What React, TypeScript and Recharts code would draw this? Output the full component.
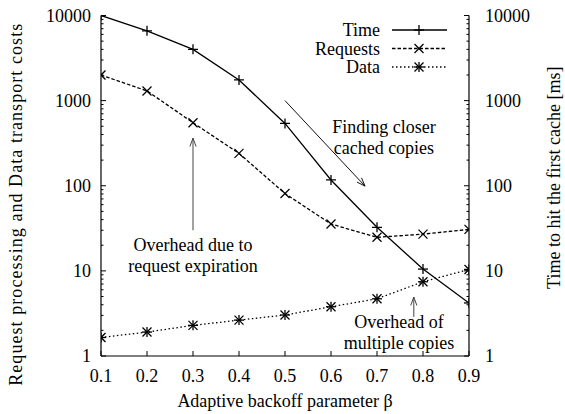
import React from 'react';
import { LineChart, Line, XAxis, YAxis, ReferenceLine, ReferenceDot, Customized } from 'recharts';

// ---- data ----
const betas = [0.1, 0.2, 0.3, 0.4, 0.5, 0.6, 0.7, 0.8, 0.9];
const timeMs = [10000, 6600, 4000, 1750, 540, 117, 32.5, 10.5, 4.2];
const requests = [2000, 1300, 550, 240, 81, 35.5, 24.8, 27, 30.7];
const dataCost = [1.65, 1.91, 2.29, 2.64, 3.03, 3.79, 4.7, 7.45, 10.4];

const xTicks = [0.1, 0.2, 0.3, 0.4, 0.5, 0.6, 0.7, 0.8, 0.9];
const yMajor = [1, 10, 100, 1000, 10000];
const yMinorMultipliers = [2, 3, 4, 5, 6, 7, 8, 9];
const yTicks: number[] = [];
yMajor.forEach((m, i) => {
  yTicks.push(m);
  if (i < yMajor.length - 1) yMinorMultipliers.forEach((k) => yTicks.push(m * k));
});

const legendNames = ['Time', 'Requests', 'Data'];

// annotations (data coordinates)
const arrows = [
  { from: { x: 0.3, y: 30 }, to: { x: 0.3, y: 363 }, color: '#444' },
  { from: { x: 0.5, y: 1000 }, to: { x: 0.674, y: 99 }, color: '#111' },
  { from: { x: 0.78, y: 2.88 }, to: { x: 0.78, y: 4.93 }, color: '#444' },
];
const notes = [
  { x: 0.3, y: 15.3, lines: ['Overhead due to', 'request expiration'] },
  { x: 0.715, y: 373, lines: ['Finding closer', 'cached copies'] },
  { x: 0.748, y: 1.88, lines: ['Overhead of', 'multiple copies'] },
];

const rows = betas.map((b, i) => ({ beta: b, time: timeMs[i], req: requests[i], data: dataCost[i] }));

const FONT = "'Liberation Serif'";
const FS = 18;
const SW = 1.3;
const TXT: React.CSSProperties = { fontFamily: FONT, fontSize: FS };

const PlusMark = ({ cx, cy }: any) => (
  <g stroke="#000" strokeWidth={SW} fill="none">
    <line x1={cx - 5} x2={cx + 5} y1={cy} y2={cy} />
    <line x1={cx} x2={cx} y1={cy - 5} y2={cy + 5} />
  </g>
);
const CrossMark = ({ cx, cy }: any) => (
  <g stroke="#000" strokeWidth={SW} fill="none">
    <line x1={cx - 4.5} x2={cx + 4.5} y1={cy - 4.5} y2={cy + 4.5} />
    <line x1={cx - 4.5} x2={cx + 4.5} y1={cy + 4.5} y2={cy - 4.5} />
  </g>
);
const StarMark = ({ cx, cy }: any) => (
  <g stroke="#000" strokeWidth={SW} fill="none">
    <line x1={cx - 4.5} x2={cx + 4.5} y1={cy - 4.5} y2={cy + 4.5} />
    <line x1={cx - 4.5} x2={cx + 4.5} y1={cy + 4.5} y2={cy - 4.5} />
    <line x1={cx - 5} x2={cx + 5} y1={cy} y2={cy} />
    <line x1={cx} x2={cx} y1={cy - 5} y2={cy + 5} />
  </g>
);

const LeftTick = ({ x, y, payload }: any) => {
  const v = payload.value;
  const major = yMajor.includes(v);
  return (
    <g>
      <line x1={x} x2={x + (major ? 5 : 2.5)} y1={y} y2={y} stroke="#000" />
      {major && (
        <text x={x - 10} y={y} dy="0.34em" textAnchor="end" style={TXT} fill="#000">
          {v}
        </text>
      )}
    </g>
  );
};
const RightTick = ({ x, y, payload }: any) => {
  const v = payload.value;
  const major = yMajor.includes(v);
  return (
    <g>
      <line x1={x} x2={x - (major ? 5 : 2.5)} y1={y} y2={y} stroke="#000" />
      {major && (
        <text x={x + 16} y={y} dy="0.34em" textAnchor="start" style={TXT} fill="#000">
          {v}
        </text>
      )}
    </g>
  );
};
const BottomTick = ({ x, y, payload }: any) => (
  <g>
    <line x1={x} x2={x} y1={y} y2={y - 5} stroke="#000" />
    <text x={x} y={y + 26} textAnchor="middle" style={TXT} fill="#000">
      {Number(payload.value).toFixed(1)}
    </text>
  </g>
);
const TopTick = ({ x, y }: any) => (
  <line x1={x} x2={x} y1={y} y2={y + 5} stroke="#000" />
);

const Arrow = (color: string) => (p: any) => {
  const { x1, y1, x2, y2 } = p;
  const ang = Math.atan2(y2 - y1, x2 - x1);
  const L = 9;
  const a = 0.35;
  const hx1 = x2 - L * Math.cos(ang - a);
  const hy1 = y2 - L * Math.sin(ang - a);
  const hx2 = x2 - L * Math.cos(ang + a);
  const hy2 = y2 - L * Math.sin(ang + a);
  return (
    <g stroke={color} strokeWidth={1} fill="none">
      <line x1={x1} y1={y1} x2={x2} y2={y2} />
      <polyline points={`${hx1},${hy1} ${x2},${y2} ${hx2},${hy2}`} />
    </g>
  );
};

const Note = (lines: string[]) => (p: any) => {
  const { cx, cy } = p;
  const lh = 21;
  const top = cy - ((lines.length - 1) / 2) * lh;
  return (
    <g>
      {lines.map((t, i) => (
        <text key={i} x={cx} y={top + i * lh} dy="0.34em" textAnchor="middle" style={TXT} fill="#000">
          {t}
        </text>
      ))}
    </g>
  );
};

const LegendBlock = () => {
  const marks = [PlusMark, CrossMark, StarMark];
  const dashes = [undefined, '3.5 2', '1.5 2.5'];
  return (
    <g>
      {legendNames.map((n, i) => {
        const y = 30 + i * 18.5;
        const M = marks[i];
        return (
          <g key={n}>
            <text x={380} y={y} dy="0.34em" textAnchor="end" style={TXT} fill="#000">
              {n}
            </text>
            <line x1={392} x2={447} y1={y} y2={y} stroke="#000" strokeWidth={SW} strokeDasharray={dashes[i]} />
            <M cx={419} cy={y} />
          </g>
        );
      })}
    </g>
  );
};

export default function App() {
  return (
    <div style={{ position: 'absolute', left: 0, top: 0, background: '#fff', fontFamily: FONT }}>
      <LineChart width={565} height={414} data={rows} margin={{ top: 15.5, right: 0, bottom: 0, left: 0 }}>
        <XAxis
          xAxisId="bottom"
          dataKey="beta"
          type="number"
          domain={[0.1, 0.9]}
          ticks={xTicks}
          interval={0}
          allowDataOverflow
          height={58}
          tickSize={0}
          tickMargin={0}
          tick={<BottomTick />}
          axisLine={{ stroke: '#000', strokeWidth: 1.2 }}
          label={{
            content: ({ viewBox }: any) => (
              <text
                x={viewBox.x + viewBox.width / 2}
                y={viewBox.y + 51}
                textAnchor="middle"
                style={TXT}
                fill="#000"
              >
                Adaptive backoff parameter β
              </text>
            ),
          }}
        />
        <XAxis
          xAxisId="top"
          orientation="top"
          dataKey="beta"
          type="number"
          domain={[0.1, 0.9]}
          ticks={xTicks}
          interval={0}
          allowDataOverflow
          height={0}
          tickSize={0}
          tickMargin={0}
          tick={<TopTick />}
          axisLine={{ stroke: '#000', strokeWidth: 1.2 }}
        />
        <YAxis
          yAxisId="left"
          scale="log"
          domain={[1, 10000]}
          allowDataOverflow
          ticks={yTicks}
          interval={0}
          width={101}
          tickSize={0}
          tickMargin={0}
          tick={<LeftTick />}
          axisLine={{ stroke: '#000', strokeWidth: 1.2 }}
          label={{
            content: ({ viewBox }: any) => (
              <text
                transform={`translate(${viewBox.x + 22}, ${viewBox.y + viewBox.height / 2 + 19}) rotate(-90)`}
                textAnchor="middle"
                textLength={362}
                lengthAdjust="spacing"
                style={TXT}
                fill="#000"
              >
                Request processing and Data transport costs
              </text>
            ),
          }}
        />
        <YAxis
          yAxisId="right"
          orientation="right"
          scale="log"
          domain={[1, 10000]}
          allowDataOverflow
          ticks={yTicks}
          interval={0}
          width={96}
          tickSize={0}
          tickMargin={0}
          tick={<RightTick />}
          axisLine={{ stroke: '#000', strokeWidth: 1.2 }}
          label={{
            content: ({ viewBox }: any) => (
              <text
                transform={`translate(${viewBox.x + 91}, ${viewBox.y + viewBox.height / 2 - 8}) rotate(-90)`}
                textAnchor="middle"
                style={TXT}
                fill="#000"
              >
                Time to hit the first cache [ms]
              </text>
            ),
          }}
        />
        <Line
          xAxisId="bottom"
          yAxisId="right"
          dataKey="time"
          stroke="#000"
          strokeWidth={SW}
          isAnimationActive={false}
          dot={(p: any) => <PlusMark key={`t${p.index}`} cx={p.cx} cy={p.cy} />}
          activeDot={false}
        />
        <Line
          xAxisId="bottom"
          yAxisId="left"
          dataKey="req"
          stroke="#000"
          strokeWidth={SW}
          strokeDasharray="3.5 2"
          isAnimationActive={false}
          dot={(p: any) => <CrossMark key={`r${p.index}`} cx={p.cx} cy={p.cy} />}
          activeDot={false}
        />
        <Line
          xAxisId="bottom"
          yAxisId="left"
          dataKey="data"
          stroke="#000"
          strokeWidth={SW}
          strokeDasharray="1.5 2.5"
          isAnimationActive={false}
          dot={(p: any) => <StarMark key={`d${p.index}`} cx={p.cx} cy={p.cy} />}
          activeDot={false}
        />
        {arrows.map((a, i) => (
          <ReferenceLine
            key={`a${i}`}
            xAxisId="bottom"
            yAxisId="left"
            segment={[a.from, a.to]}
            shape={Arrow(a.color)}
            ifOverflow="visible"
          />
        ))}
        {notes.map((n, i) => (
          <ReferenceDot
            key={`n${i}`}
            xAxisId="bottom"
            yAxisId="left"
            x={n.x}
            y={n.y}
            r={0}
            ifOverflow="visible"
            shape={Note(n.lines)}
          />
        ))}
        <Customized component={LegendBlock} />
      </LineChart>
    </div>
  );
}
